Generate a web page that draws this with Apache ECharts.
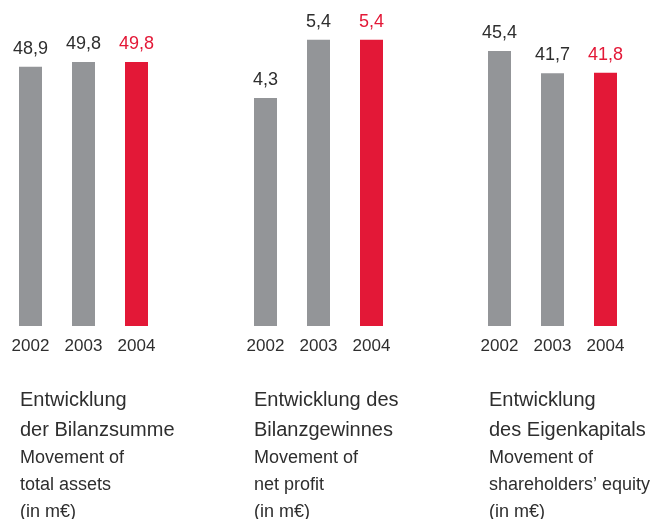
<!DOCTYPE html>
<html>
<head>
<meta charset="utf-8">
<script src="https://cdn.jsdelivr.net/npm/echarts@6/dist/echarts.min.js"></script>
<style>
  html, body { margin: 0; padding: 0; background: #fff; }
  #chart { width: 658px; height: 519px; }
</style>
</head>
<body>
<div id="chart"></div>
<script>
const years = ['2002', '2003', '2004'];
const totalAssets = [48.9, 49.8, 49.8];
const netProfit = [4.3, 5.4, 5.4];
const equity = [45.4, 41.7, 41.8];

const captionsDe = [
  ['Entwicklung', 'der Bilanzsumme'],
  ['Entwicklung des', 'Bilanzgewinnes'],
  ['Entwicklung', 'des Eigenkapitals']
];
const captionsEn = [
  ['Movement of', 'total assets', '(in m€)'],
  ['Movement of', 'net profit', '(in m€)'],
  ['Movement of', 'shareholders’ equity', '(in m€)']
];

const grey = '#939598';
const red = '#e31837';
const textColor = '#2e2e2e';
const font = '"Liberation Sans", Arial, sans-serif';

const chart = echarts.init(document.getElementById('chart'));

// each panel: left edge of grid and y max (so all share same baseline)
const panels = [
  { data: totalAssets, left: 4, max: 61.5, textX: 20 },
  { data: netProfit, left: 239, max: 6.15, textX: 254 },
  { data: equity, left: 473, max: 53.8, textX: 489 }
];

const fmt = v => String(v).replace('.', ',');

const option = {
  animation: false,
  grid: panels.map(p => ({ left: p.left, width: 159, top: 0, bottom: 193 })),
  xAxis: panels.map((p, i) => ({
    type: 'category',
    gridIndex: i,
    data: years,
    axisLine: { show: false },
    axisTick: { show: false },
    axisLabel: { color: textColor, fontSize: 17, fontFamily: font, margin: 12 }
  })),
  yAxis: panels.map((p, i) => ({
    type: 'value',
    gridIndex: i,
    min: 0,
    max: p.max,
    show: false
  })),
  series: panels.map((p, i) => ({
    type: 'bar',
    xAxisIndex: i,
    yAxisIndex: i,
    barWidth: 23,
    data: p.data.map((v, j) => ({
      value: v,
      itemStyle: { color: j === 2 ? red : grey },
      label: { color: j === 2 ? red : textColor }
    })),
    label: {
      show: true,
      position: 'top',
      distance: 9,
      fontSize: 18,
      fontFamily: font,
      formatter: d => fmt(d.value)
    }
  })),
  graphic: panels.map((p, i) => ({
    type: 'text',
    left: p.textX,
    top: 390,
    style: {
      text: captionsDe[i].map(s => '{a|' + s + '}')
        .concat(captionsEn[i].map(s => '{b|' + s + '}')).join('\n'),
      fill: textColor,
      rich: {
        a: { fontSize: 20, lineHeight: 30, fontFamily: font, fill: textColor },
        b: { fontSize: 18, lineHeight: 27, fontFamily: font, fill: textColor }
      }
    }
  }))
};

chart.setOption(option);
</script>
</body>
</html>
